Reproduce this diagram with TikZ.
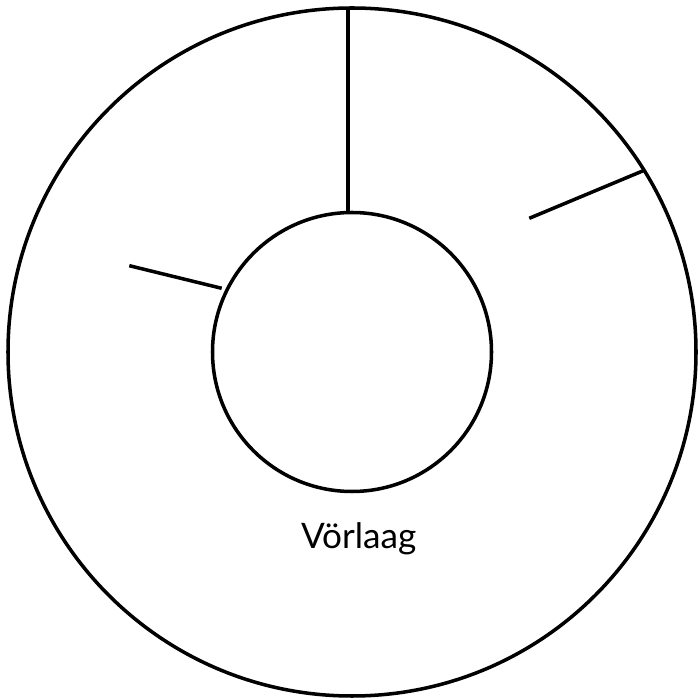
\documentclass[tikz,border=0pt]{standalone}
\usepackage{fontspec}
\setmainfont{Lato}
\usepackage{tikz}

\tikzset{ring/.style={line width=2pt}}

\begin{document}
\begin{tikzpicture}[x=0.02cm,y=0.02cm]
\useasboundingbox (0,0) rectangle (700,700);
\draw (352,348) coordinate(c) ;

\draw[ring] (c) circle[radius=344] ;
\draw[ring] (c) circle[radius=139.5] ;

\draw (348,692) coordinate(o1) ;
\draw (348,487.5) coordinate(i1) ;
\draw (643.3,529.3) coordinate(o2) ;
\draw (529.3,481.7) coordinate(i2) ;
\draw (129.3,434.3) coordinate(o3) ;
\draw (221.7,411.7) coordinate(i3) ;

\draw[ring] (o1) -- (i1);
\draw[ring] (o2) -- (i2);
\draw[ring] (o3) -- (i3);

\draw (358.7,151) node[anchor=base,font=\fontsize{20}{24}\selectfont](lbl) {Vörlaag} ;
\end{tikzpicture}
\end{document}
